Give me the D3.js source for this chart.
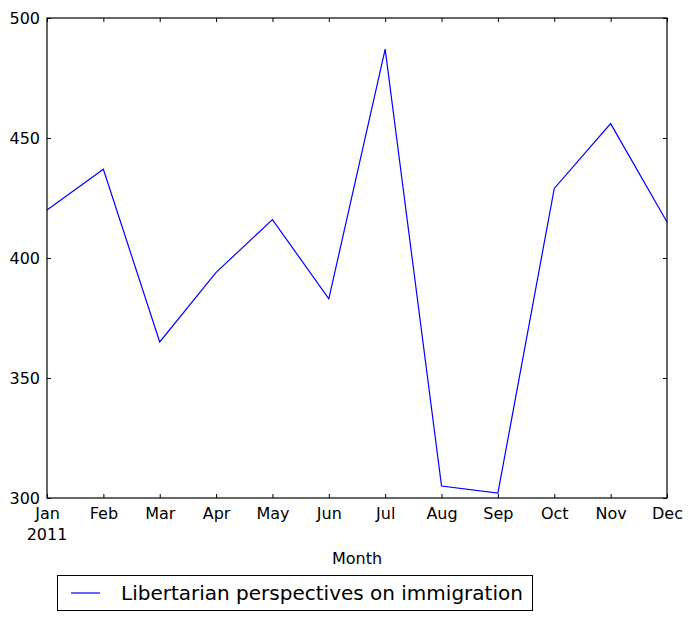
<!DOCTYPE html>
<html>
<head>
<meta charset="utf-8">
<script src="https://cdn.jsdelivr.net/npm/d3@7"></script>
<style>
  body { margin: 0; background: #fff; }
  svg { display: block; font-family: "DejaVu Sans", sans-serif; }
</style>
</head>
<body>
<svg id="chart" width="693" height="621"></svg>
<script>
const months = ["Jan","Feb","Mar","Apr","May","Jun","Jul","Aug","Sep","Oct","Nov","Dec"];
const values = [420, 437, 365, 394, 416, 383, 487, 305, 302, 429, 456, 415];
const yTicks = [300, 350, 400, 450, 500];
const seriesName = "Libertarian perspectives on immigration";
const xLabel = "Month";
const yearLabel = "2011";

const svg = d3.select("#chart");
const m = {left: 47, right: 667, top: 18, bottom: 498};

const x = d3.scalePoint().domain(months).range([m.left, m.right]);
const y = d3.scaleLinear().domain([300, 500]).range([m.bottom, m.top]);

// line
const line = d3.line().x((d, i) => x(months[i])).y(d => y(d));
svg.append("path").datum(values)
  .attr("d", line).attr("fill", "none").attr("stroke", "#0000ff").attr("stroke-width", 1.2);

// frame
svg.append("rect").attr("x", m.left).attr("y", m.top)
  .attr("width", m.right - m.left).attr("height", m.bottom - m.top)
  .attr("fill", "none").attr("stroke", "#000").attr("stroke-width", 1.2);

// x axis bottom
const xb = svg.append("g").attr("transform", `translate(0,${m.bottom})`)
  .call(d3.axisBottom(x).tickSizeInner(-4).tickSizeOuter(0).tickPadding(10));
xb.select(".domain").remove();
xb.selectAll("text").attr("font-size", 16).attr("font-family", "DejaVu Sans").attr("fill", "#000");
// x axis top ticks
const xt = svg.append("g").attr("transform", `translate(0,${m.top})`)
  .call(d3.axisTop(x).tickSizeInner(-4).tickSizeOuter(0).tickFormat(""));
xt.select(".domain").remove();

// y axis left
const yl = svg.append("g").attr("transform", `translate(${m.left},0)`)
  .call(d3.axisLeft(y).tickValues(yTicks).tickSizeInner(-4).tickSizeOuter(0).tickPadding(7));
yl.select(".domain").remove();
yl.selectAll("text").attr("font-size", 16).attr("font-family", "DejaVu Sans").attr("fill", "#000");
const yr = svg.append("g").attr("transform", `translate(${m.right},0)`)
  .call(d3.axisRight(y).tickValues(yTicks).tickSizeInner(-4).tickSizeOuter(0).tickFormat(""));
yr.select(".domain").remove();

// year label
svg.append("text").attr("x", x("Jan")).attr("y", 540).attr("text-anchor", "middle")
  .attr("font-size", 16).text(yearLabel);

// x label
svg.append("text").attr("x", (m.left + m.right) / 2).attr("y", 564).attr("text-anchor", "middle")
  .attr("font-size", 16).text(xLabel);

// legend
const lg = svg.append("g");
lg.append("rect").attr("x", 57.5).attr("y", 575.5).attr("width", 475).attr("height", 35)
  .attr("fill", "#fff").attr("stroke", "#000").attr("stroke-width", 1);
lg.append("line").attr("x1", 71).attr("x2", 100).attr("y1", 593).attr("y2", 593)
  .attr("stroke", "#0000ff").attr("stroke-width", 1.2);
lg.append("text").attr("x", 121).attr("y", 600).attr("font-size", 20).text(seriesName);
</script>
</body>
</html>
